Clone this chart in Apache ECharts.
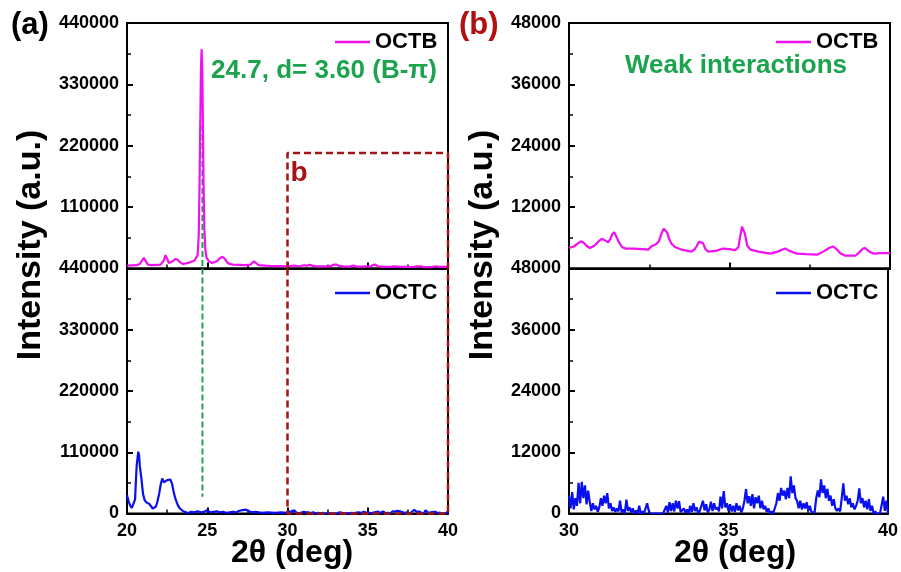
<!DOCTYPE html>
<html>
<head>
<meta charset="utf-8">
<script src="https://cdn.jsdelivr.net/npm/echarts@6/dist/echarts.min.js"></script>
<style>html,body{margin:0;padding:0;background:#fff}#c{width:901px;height:572px}</style>
</head>
<body>
<div id="c"></div>
<script>
// ---- data (2θ in degrees, intensity in counts) ----
const octbData = [
[20.0,5000],[20.3,5500],[20.6,6000],[20.8,8000],[20.95,15000],[21.05,19000],[21.15,14000],[21.3,7000],
[21.5,6000],[21.8,6500],[22.1,7000],[22.3,15000],[22.4,24000],[22.5,18000],[22.6,10000],[22.7,9000],
[22.85,13000],[23.0,17000],[23.15,16000],[23.3,11000],[23.5,8000],[23.8,10000],[24.0,12000],[24.2,14000],
[24.3,16000],[24.4,24000],[24.47,60000],[24.52,150000],[24.57,270000],[24.61,360000],[24.65,393000],
[24.69,355000],[24.73,260000],[24.77,150000],[24.82,70000],[24.88,35000],[24.95,20000],[25.1,13000],
[25.3,10000],[25.6,13000],[25.8,19000],[25.95,21000],[26.1,17000],[26.3,9000],[26.6,7000],[27.0,6500],
[27.4,6000],[27.7,7000],[27.9,13000],[28.0,11000],[28.2,6000],[28.6,5000],[29.0,4500],[29.5,4300],
[29.95,4000],
[30.0,4000],[30.15,4300],[30.28,4900],[30.37,5300],[30.45,5100],[30.55,4400],[30.65,4000],[30.8,4500],
[30.92,5300],[31.02,5800],[31.12,5500],[31.22,5100],[31.29,5800],[31.35,6700],[31.41,7100],[31.47,6800],
[31.55,5200],[31.65,4200],[31.75,3900],[32.0,3900],[32.3,3800],[32.47,3700],[32.58,4400],[32.7,4700],
[32.8,5300],[32.88,6800],[32.95,7800],[33.0,7900],[33.06,7000],[33.12,5800],[33.2,4800],[33.3,4200],
[33.5,3700],[33.82,3300],[33.92,3800],[33.98,4400],[34.05,5200],[34.11,5500],[34.17,5000],[34.25,3800],
[34.34,3300],[34.6,3500],[34.8,3900],[35.0,3800],[35.18,3600],[35.28,4200],[35.34,6500],[35.39,8200],
[35.43,8300],[35.48,6800],[35.55,4500],[35.65,3700],[35.9,3300],[36.27,2900],[36.5,3300],[36.65,3700],
[36.74,3900],[36.85,3500],[37.1,2900],[37.4,2800],[37.73,2700],[37.95,3400],[38.1,4000],[38.22,4300],
[38.32,3900],[38.45,3000],[38.61,2500],[38.92,2500],[39.05,3200],[39.16,3900],[39.23,4000],[39.35,3300],
[39.49,2900],[39.7,3000],[40.0,3000]
];
const octcLowAngle = [
[20.0,33000],[20.1,22000],[20.2,14000],[20.3,10000],[20.4,9000],[20.5,25000],[20.6,85000],[20.7,111000],
[20.75,105000],[20.8,85000],[20.9,62000],[21.0,35000],[21.1,24000],[21.2,20000],[21.3,18000],[21.4,17000],
[21.5,14000],[21.6,9000],[21.7,6000],[21.8,12000],[21.9,22000],[22.0,35000],[22.1,52000],[22.2,63000],
[22.3,56000],[22.4,54000],[22.5,60000],[22.6,58000],[22.7,61000],[22.8,54000],[22.9,40000],[23.0,28000],
[23.1,20000],[23.2,13000],[23.3,9000],[23.4,6000],[23.5,4000],[23.6,2000],[23.8,1000],[24.0,3000],
[24.2,2000],[24.4,4000],[24.6,2000],[24.8,3000],[25.0,6000],[25.2,2000],[25.4,3000],[25.6,4000],
[25.8,2000],[26.0,3000],[26.2,1000],[26.4,2000],[26.6,3000],[26.8,2000],[27.0,5000],[27.2,6000],
[27.4,7000],[27.6,4000],[27.8,2000],[28.0,3000],[28.4,1000],[28.8,2000],[29.2,1000],[29.6,2000],[29.95,1000]
];
const octcHighAngle = [
[30.00,3500],[30.05,1000],[30.10,4200],[30.15,800],[30.20,3000],[30.25,1500],[30.30,6000],[30.35,2000],
[30.40,6200],[30.45,3000],[30.50,5500],[30.55,1800],[30.60,4500],[30.65,2300],[30.70,500],[30.75,2000],
[30.80,800],[30.85,1500],[30.90,300],[30.95,1200],[31.00,3000],[31.05,1500],[31.10,3500],[31.15,2000],
[31.20,4000],[31.25,1000],[31.30,2000],[31.35,500],[31.40,1200],[31.45,300],[31.50,1000],[31.55,400],
[31.60,2500],[31.65,200],[31.70,800],[31.75,0],[31.80,2700],[31.85,500],[31.90,1200],[31.95,200],
[32.00,1000],[32.05,0],[32.10,600],[32.15,0],[32.20,1500],[32.25,0],[32.30,400],[32.35,0],
[32.40,300],[32.45,2000],[32.50,500],[32.55,0],[32.60,0],[32.65,0],[32.70,0],[32.75,0],
[32.80,0],[32.85,0],[32.90,0],[32.95,0],[33.00,300],[33.05,1500],[33.10,200],[33.15,2200],
[33.20,500],[33.25,2000],[33.30,400],[33.35,2500],[33.40,1000],[33.45,2400],[33.50,300],[33.55,0],
[33.60,1000],[33.65,200],[33.70,800],[33.75,0],[33.80,1500],[33.85,300],[33.90,2000],[33.95,500],
[34.00,1200],[34.05,0],[34.10,500],[34.15,200],[34.20,2500],[34.25,600],[34.30,1800],[34.35,200],
[34.40,800],[34.45,2300],[34.50,500],[34.55,2000],[34.60,800],[34.65,1200],[34.70,400],[34.75,3300],
[34.80,1000],[34.85,4400],[34.90,1200],[34.95,2000],[35.00,500],[35.05,1800],[35.10,400],[35.15,1500],
[35.20,300],[35.25,2000],[35.30,600],[35.35,1500],[35.40,200],[35.45,1000],[35.50,2500],[35.55,4800],
[35.60,2000],[35.65,3400],[35.70,1500],[35.75,3800],[35.80,1000],[35.85,3200],[35.90,2000],[35.95,3500],
[36.00,1000],[36.05,2500],[36.10,800],[36.15,1500],[36.20,300],[36.25,1000],[36.30,0],[36.35,400],
[36.40,0],[36.45,0],[36.50,2000],[36.55,4000],[36.60,2500],[36.65,5000],[36.70,3500],[36.75,4500],
[36.80,2800],[36.85,5000],[36.90,3000],[36.95,7300],[37.00,4000],[37.05,5500],[37.10,3000],[37.15,2500],
[37.20,1000],[37.25,2500],[37.30,800],[37.35,2000],[37.40,1000],[37.45,2200],[37.50,500],[37.55,1500],
[37.60,300],[37.65,500],[37.70,200],[37.75,3000],[37.80,4500],[37.85,3200],[37.90,6700],[37.95,4000],
[38.00,5500],[38.05,3000],[38.10,4800],[38.15,2500],[38.20,3500],[38.25,1500],[38.30,2800],[38.35,1000],
[38.40,500],[38.45,1000],[38.50,400],[38.55,3000],[38.60,5900],[38.65,2500],[38.70,3500],[38.75,1800],
[38.80,3000],[38.85,1200],[38.90,2000],[38.95,800],[39.00,1500],[39.05,2500],[39.10,4900],[39.15,2000],
[39.20,3000],[39.25,1200],[39.30,2500],[39.35,800],[39.40,2800],[39.45,500],[39.50,1500],[39.55,0],
[39.60,400],[39.65,0],[39.70,300],[39.75,0],[39.80,200],[39.85,3300],[39.90,500],[39.95,2500],[40.00,0]
];
const octcData = octcLowAngle.concat(octcHighAngle);
// reference line at the main OCTB peak and the zoom box marking panel (b)
const peakTheta = 24.7;
const peakLineTop = [[peakTheta, 257000], [peakTheta, 0]];
const peakLineBottom = [[peakTheta, 440000], [peakTheta, 30000]];
const zoomBoxTop = [[30, 0], [30, 207000], [40, 207000], [40, 0]];
const zoomBoxBottom = [[30, 440000], [30, 0], [40, 0], [40, 440000]];
const yTicksA = [0, 110000, 220000, 330000, 440000];
const yTicksB = [0, 12000, 24000, 36000, 48000];

const FONT = 'Liberation Sans, Arial, sans-serif';
const MAGENTA = '#f010f0', BLUE = '#0a0ff0', GREEN = '#1ba34e', DARKRED = '#a31515';

const chart = echarts.init(document.getElementById('c'), null, {renderer: 'canvas'});

function xAxis(grid, min, max, showLabel) {
  return {
    type: 'value', gridIndex: grid, min: min, max: max, interval: 5,
    axisLine: {show: true, onZero: false, lineStyle: {color: '#000', width: 2}},
    axisTick: {show: true, inside: true, length: 6, lineStyle: {color: '#000', width: 2}},
    minorTick: {show: true, splitNumber: 2, length: 4, lineStyle: {color: '#000', width: 1.5}},
    splitLine: {show: false},
    axisLabel: {show: showLabel, color: '#000', fontFamily: FONT, fontWeight: 'bold', fontSize: 18, margin: 9}
  };
}
function yAxis(grid, ticks, showMin) {
  return {
    type: 'value', gridIndex: grid, min: ticks[0], max: ticks[ticks.length - 1],
    interval: ticks[1] - ticks[0],
    axisLine: {show: true, onZero: false, lineStyle: {color: '#000', width: 2}},
    axisTick: {show: true, inside: true, length: 6, lineStyle: {color: '#000', width: 2}},
    minorTick: {show: true, splitNumber: 2, length: 4, lineStyle: {color: '#000', width: 1.5}},
    splitLine: {show: false},
    axisLabel: {showMinLabel: showMin, color: '#000', fontFamily: FONT, fontWeight: 'bold', fontSize: 18, margin: 8,
      formatter: v => String(v)}
  };
}
function lineSeries(name, grid, data, color, width, type, z) {
  return {
    name: name, type: 'line', xAxisIndex: grid, yAxisIndex: grid, data: data,
    symbol: 'none', silent: true, animation: false, z: z || 2,
    lineStyle: {color: color, width: width, type: type || 'solid'}, itemStyle: {color: color}
  };
}
function legend(left, top, name) {
  return {
    left: left, top: top, data: [name], icon: 'rect', itemWidth: 35, itemHeight: 2.5, selectedMode: false,
    textStyle: {color: '#000', fontFamily: FONT, fontWeight: 'bold', fontSize: 22}
  };
}
const gridStyle = {show: true, borderColor: '#000', borderWidth: 2, backgroundColor: 'transparent'};

const option = {
  backgroundColor: '#fff',
  animation: false,
  grid: [
    Object.assign({left: 127, top: 23, width: 321, height: 245.5}, gridStyle),
    Object.assign({left: 127, top: 268.5, width: 321, height: 245}, gridStyle),
    Object.assign({left: 569, top: 23, width: 321, height: 245.5}, gridStyle),
    Object.assign({left: 569, top: 268.5, width: 321, height: 245}, gridStyle)
  ],
  xAxis: [xAxis(0, 20, 40, false), xAxis(1, 20, 40, true), xAxis(2, 30, 40, false), xAxis(3, 30, 40, true)],
  yAxis: [yAxis(0, yTicksA, false), yAxis(1, yTicksA, true), yAxis(2, yTicksB, false), yAxis(3, yTicksB, true)],
  legend: [legend(330, 26, 'OCTB'), legend(330, 277, 'OCTC'), legend(771, 26, 'OCTB'), legend(771, 277, 'OCTC')],
  series: [
    lineSeries('peak line', 0, peakLineTop, GREEN, 2, [6, 3], 1),
    lineSeries('peak line', 1, peakLineBottom, GREEN, 2, [6, 3], 1),
    lineSeries('OCTB', 0, octbData, MAGENTA, 2.2),
    lineSeries('OCTC', 1, octcData, BLUE, 2.2),
    lineSeries('OCTB', 2, octbData.filter(p => p[0] >= 30), MAGENTA, 2.2),
    lineSeries('OCTC', 3, octcData.filter(p => p[0] >= 30), BLUE, 2.2),
    Object.assign(lineSeries('zoom box', 0, zoomBoxTop, DARKRED, 2.5, [7, 4], 5), {clip: false}),
    Object.assign(lineSeries('zoom box', 1, zoomBoxBottom, DARKRED, 2.5, [7, 4], 5), {clip: false})
  ],
  graphic: [
    {type: 'text', left: 11, top: 10, style: {text: '(a)', fill: '#000', font: 'bold 31px ' + FONT}},
    {type: 'text', left: 459, top: 10, style: {text: '(b)', fill: '#b01010', font: 'bold 31px ' + FONT}},
    {type: 'text', x: 31, y: 245, rotation: Math.PI / 2,
      style: {text: 'Intensity (a.u.)', fill: '#000', font: 'bold 34px ' + FONT, align: 'center', verticalAlign: 'middle'}},
    {type: 'text', x: 483, y: 245, rotation: Math.PI / 2,
      style: {text: 'Intensity (a.u.)', fill: '#000', font: 'bold 34px ' + FONT, align: 'center', verticalAlign: 'middle'}},
    {type: 'text', x: 292, y: 553,
      style: {text: '2θ (deg)', fill: '#000', font: 'bold 32px ' + FONT, align: 'center', verticalAlign: 'middle'}},
    {type: 'text', x: 735, y: 553,
      style: {text: '2θ (deg)', fill: '#000', font: 'bold 32px ' + FONT, align: 'center', verticalAlign: 'middle'}},
    {type: 'text', x: 324, y: 71,
      style: {text: '24.7, d= 3.60 (B-π)', fill: GREEN, font: 'bold 26px ' + FONT, align: 'center', verticalAlign: 'middle'}},
    {type: 'text', x: 736, y: 66,
      style: {text: 'Weak interactions', fill: GREEN, font: 'bold 26px ' + FONT, align: 'center', verticalAlign: 'middle'}},
    {type: 'text', x: 299, y: 173,
      style: {text: 'b', fill: DARKRED, font: 'bold 28px ' + FONT, align: 'center', verticalAlign: 'middle'}}
  ]
};
chart.setOption(option);
</script>
</body>
</html>
